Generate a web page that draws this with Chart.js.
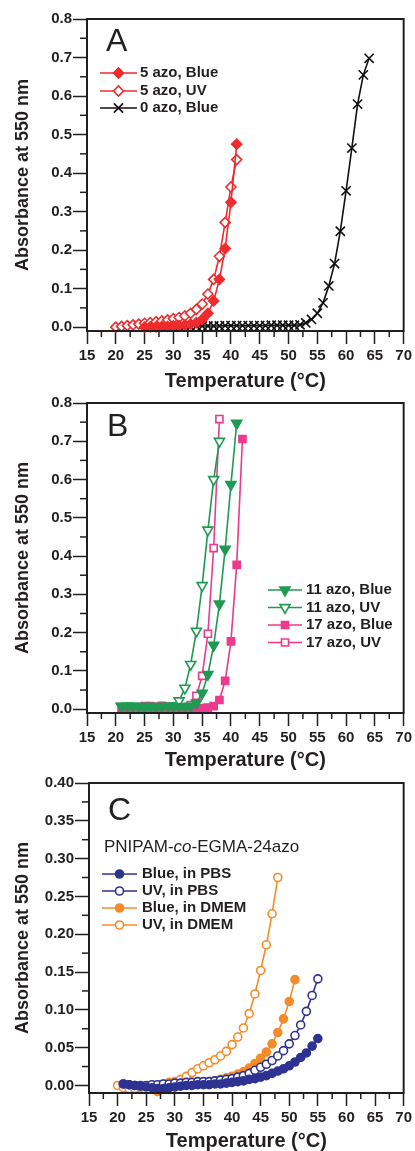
<!DOCTYPE html>
<html>
<head>
<meta charset="utf-8">
<script src="https://cdn.jsdelivr.net/npm/chart.js@4.4.1/dist/chart.umd.min.js"></script>
<style>
body { margin: 0; background: #fff; }
#wrap { position: relative; width: 415px; height: 1151px; overflow: hidden; background: #fff; }
canvas { position: absolute; left: 0; }
</style>
</head>
<body>
<div id="wrap">
<canvas id="chartA" width="415" height="392" style="top:0px"></canvas>
<canvas id="chartB" width="415" height="380" style="top:390px"></canvas>
<canvas id="chartC" width="415" height="383" style="top:768px"></canvas>
</div>
<script>
// shared axis ticks
var xTicks = [15, 20, 25, 30, 35, 40, 45, 50, 55, 60, 65, 70];
var xMinor = [17.5, 22.5, 27.5, 32.5, 37.5, 42.5, 47.5, 52.5, 57.5, 62.5, 67.5];
var abYTicks = [0, 0.1, 0.2, 0.3, 0.4, 0.5, 0.6, 0.7, 0.8];
var abYMinor = [0.05, 0.15, 0.25, 0.35, 0.45, 0.55, 0.65, 0.75];
var cYTicks = [0, 0.05, 0.10, 0.15, 0.20, 0.25, 0.30, 0.35, 0.40];
var cYMinor = [0.025, 0.075, 0.125, 0.175, 0.225, 0.275, 0.325, 0.375];

// panel A
var aBlue5T = [25, 26, 27, 28, 29, 30, 31, 32, 33, 34, 35, 36, 37, 38, 39, 40, 41];
var aBlue5 = [0.000, 0.001, 0.001, 0.002, 0.002, 0.003, 0.004, 0.006, 0.008, 0.012, 0.020, 0.036, 0.068, 0.124, 0.204, 0.324, 0.475];
var aUV5T = [20, 21, 22, 23, 24, 25, 26, 27, 28, 29, 30, 31, 32, 33, 34, 35, 36, 37, 38, 39, 40, 41];
var aUV5 = [0.000, 0.002, 0.004, 0.006, 0.008, 0.010, 0.012, 0.014, 0.016, 0.019, 0.022, 0.025, 0.029, 0.036, 0.046, 0.060, 0.086, 0.124, 0.184, 0.272, 0.364, 0.435];
var aBlue0T = [25, 26, 27, 28, 29, 30, 31, 32, 33, 34, 35, 36, 37, 38, 39, 40, 41, 42, 43, 44,
    45, 46, 47, 48, 49, 50, 51, 52, 53, 54, 55, 56, 57, 58, 59, 60, 61, 62, 63, 64];
var aBlue0 = [0.000, 0.000, 0.001, 0.001, 0.001, 0.002, 0.002, 0.002, 0.002, 0.003, 0.003, 0.003, 0.003, 0.003, 0.004, 0.004, 0.004, 0.004, 0.004, 0.004,
    0.004, 0.004, 0.005, 0.005, 0.005, 0.005, 0.005, 0.006, 0.011, 0.020, 0.036, 0.063, 0.107, 0.165, 0.249, 0.354, 0.465, 0.579, 0.655, 0.698];

// panel B
var b11BlueT = [21, 22, 23, 24, 25, 26, 27, 28, 29, 30, 31, 32, 33, 34, 35, 36, 37, 38, 39, 40, 41];
var b11Blue = [0.007, 0.007, 0.007, 0.006, 0.006, 0.006, 0.006, 0.006, 0.006, 0.006, 0.006, 0.007, 0.008, 0.016, 0.042, 0.091, 0.167, 0.275, 0.418, 0.587, 0.747];
var b11UVT = [21, 22, 23, 24, 25, 26, 27, 28, 29, 30, 31, 32, 33, 34, 35, 36, 37, 38];
var b11UV = [0.008, 0.008, 0.008, 0.007, 0.007, 0.007, 0.007, 0.007, 0.008, 0.009, 0.022, 0.055, 0.117, 0.204, 0.323, 0.468, 0.600, 0.700];
var b17BlueT = [21, 22, 23, 24, 25, 26, 27, 28, 29, 30, 31, 32, 33, 34, 35, 36, 37, 38, 39, 40, 41, 42];
var b17Blue = [0.000, 0.000, 0.000, 0.000, 0.000, 0.000, 0.000, 0.000, 0.000, 0.000, 0.001, 0.001, 0.001, 0.002, 0.003, 0.004, 0.008, 0.024, 0.074, 0.177, 0.377, 0.706];
var b17UVT = [25, 26, 27, 28, 29, 30, 31, 32, 33, 34, 35, 36, 37, 38];
var b17UV = [0.008, 0.008, 0.006, 0.009, 0.006, 0.005, 0.005, 0.005, 0.011, 0.035, 0.087, 0.197, 0.421, 0.758];

// panel C
var cPbsT = [21, 22, 23, 24, 25, 26, 27, 28, 29, 30, 31, 32, 33, 34, 35, 36, 37, 38,
    39, 40, 41, 42, 43, 44, 45, 46, 47, 48, 49, 50, 51, 52, 53, 54, 55];
var cBluePbs = [0.002, 0.001, 0.000, -0.001, -0.002, -0.003, -0.004, -0.004, -0.003, -0.002, -0.001, 0.000, 0.000, 0.001, 0.001, 0.001, 0.002, 0.002,
    0.003, 0.004, 0.005, 0.006, 0.008, 0.009, 0.011, 0.013, 0.016, 0.019, 0.022, 0.026, 0.031, 0.037, 0.043, 0.052, 0.062];
var cUVPbs = [0.002, 0.001, 0.000, 0.000, 0.000, 0.001, 0.001, 0.002, 0.002, 0.003, 0.003, 0.004, 0.004, 0.005, 0.005, 0.005, 0.006, 0.007,
    0.008, 0.009, 0.011, 0.013, 0.016, 0.020, 0.024, 0.028, 0.033, 0.039, 0.046, 0.055, 0.066, 0.080, 0.098, 0.119, 0.141];
var cBlueDmemT = [27, 28, 29, 30, 31, 32, 33, 34, 35, 36, 37, 38, 39, 40, 41, 42, 43, 44, 45, 46, 47, 48, 49, 50, 51];
var cBlueDmem = [-0.008, -0.005, -0.003, -0.002, 0.000, 0.001, 0.002, 0.003, 0.004, 0.005, 0.006, 0.008, 0.010, 0.012, 0.015, 0.018, 0.023, 0.029, 0.036, 0.044, 0.055, 0.070, 0.088, 0.111, 0.140];
var cUVDmemT = [20, 21, 22, 23, 24, 25, 26, 27, 28, 29, 30, 31, 32, 33, 34, 35, 36, 37, 38, 39, 40, 41, 42, 43, 44, 45, 46, 47, 48];
var cUVDmem = [0.000, -0.003, -0.004, -0.004, -0.003, -0.002, 0.000, 0.001, 0.002, 0.004, 0.005, 0.008, 0.012, 0.017, 0.022, 0.026, 0.030, 0.034, 0.039, 0.045, 0.054, 0.064, 0.076, 0.095, 0.121, 0.152, 0.186, 0.227, 0.275];

var FONT = "'Liberation Sans', Arial, Helvetica, sans-serif";
var INK = "#231f20";
var RED = "#ee2b2e";
var GREEN = "#1f9a52";
var PINK = "#ec3a8c";
var NAVY = "#2e3392";
var ORANGE = "#f68b2a";

function series(label, xs, ys, color, style, radius, filled, rotation) {
    return {
        label: label,
        data: xs.map(function (t, i) { return { x: t, y: ys[i] }; }),
        borderColor: color,
        borderWidth: 1.6,
        pointStyle: style,
        pointRadius: radius,
        pointHoverRadius: radius,
        pointRotation: rotation || 0,
        pointBorderColor: color,
        pointBackgroundColor: filled ? color : "#fff",
        pointBorderWidth: 1.6,
        tension: 0,
        clip: false
    };
}

// frame, minor ticks, panel letter, legend, subtitle
var panelPlugin = {
    id: "panel",
    afterDraw: function (chart, args, o) {
        var ctx = chart.ctx;
        var area = chart.chartArea;
        var xs = chart.scales.x;
        var ys = chart.scales.y;
        ctx.save();
        ctx.strokeStyle = INK;
        ctx.lineWidth = 2;
        ctx.strokeRect(area.left, area.top, area.right - area.left, area.bottom - area.top);

        ctx.lineWidth = 1.5;
        o.minorX.forEach(function (v) {
            var px = xs.getPixelForValue(v);
            ctx.beginPath();
            ctx.moveTo(px, area.bottom);
            ctx.lineTo(px, area.bottom + 6);
            ctx.stroke();
        });
        o.minorY.forEach(function (v) {
            var py = ys.getPixelForValue(v);
            ctx.beginPath();
            ctx.moveTo(area.left - 7, py);
            ctx.lineTo(area.left, py);
            ctx.stroke();
        });

        ctx.fillStyle = INK;
        ctx.font = "32px " + FONT;
        ctx.textAlign = "left";
        ctx.textBaseline = "alphabetic";
        ctx.fillText(o.letter, o.letterX, o.letterY);

        if (o.subtitle) {
            var x = o.subX;
            o.subtitle.forEach(function (part) {
                ctx.font = (part.italic ? "italic " : "") + "17px " + FONT;
                ctx.fillText(part.text, x, o.subY);
                x += ctx.measureText(part.text).width;
            });
        }

        chart.data.datasets.forEach(function (ds, i) {
            var y = o.rows[i];
            ctx.strokeStyle = ds.borderColor;
            ctx.lineWidth = 1.6;
            ctx.beginPath();
            ctx.moveTo(o.lineX0, y);
            ctx.lineTo(o.lineX1, y);
            ctx.stroke();
            ctx.fillStyle = ds.pointBackgroundColor;
            ctx.strokeStyle = ds.pointBorderColor;
            ctx.lineWidth = ds.pointBorderWidth;
            Chart.helpers.drawPoint(ctx, {
                pointStyle: ds.pointStyle,
                radius: ds.pointRadius,
                rotation: ds.pointRotation,
                borderWidth: ds.pointBorderWidth
            }, (o.lineX0 + o.lineX1) / 2, y);
            ctx.fillStyle = INK;
            ctx.font = "bold 15px " + FONT;
            ctx.textBaseline = "middle";
            ctx.fillText(ds.label, o.textX, y);
            ctx.textBaseline = "alphabetic";
        });
        ctx.restore();
    }
};

function makePanel(id, datasets, p) {
    return new Chart(id, {
        type: "line",
        data: { datasets: datasets },
        plugins: [panelPlugin],
        options: {
            responsive: false,
            animation: false,
            events: [],
            layout: { padding: { top: p.top, right: p.right, left: 0, bottom: 0 } },
            plugins: {
                legend: { display: false },
                tooltip: { enabled: false },
                panel: p.panel
            },
            scales: {
                x: {
                    type: "linear",
                    min: 15,
                    max: 70,
                    afterBuildTicks: function (s) { s.ticks = xTicks.map(function (v) { return { value: v }; }); },
                    afterFit: function (s) { s.height = p.xH; },
                    grid: { drawOnChartArea: false, tickLength: 13, tickColor: INK, tickWidth: 1.5 },
                    border: { color: INK, width: 2 },
                    ticks: {
                        font: { family: FONT, size: 15, weight: "bold" },
                        color: INK,
                        padding: 3,
                        maxRotation: 0,
                        autoSkip: false
                    },
                    title: {
                        display: true,
                        text: "Temperature (°C)",
                        color: INK,
                        font: { family: FONT, size: 20, weight: "bold", lineHeight: 1 },
                        padding: { top: 0, bottom: p.xTitlePad }
                    }
                },
                y: {
                    type: "linear",
                    min: p.yMin,
                    max: p.yMax,
                    afterBuildTicks: function (s) { s.ticks = p.yTicks.map(function (v) { return { value: v }; }); },
                    afterFit: function (s) { s.width = p.left; },
                    grid: { drawOnChartArea: false, tickLength: 14, tickColor: INK, tickWidth: 1.5 },
                    border: { color: INK, width: 2 },
                    ticks: {
                        font: { family: FONT, size: 15, weight: "bold" },
                        color: INK,
                        padding: 1,
                        callback: function (v) { return v.toFixed(p.decimals); }
                    },
                    title: {
                        display: true,
                        text: "Absorbance at 550 nm",
                        color: INK,
                        font: { family: FONT, size: 18, weight: "bold", lineHeight: 1 },
                        padding: { top: 14, bottom: 0 }
                    }
                }
            }
        }
    });
}

makePanel("chartA", [
    series("5 azo, Blue", aBlue5T, aBlue5, RED, "rectRot", 5, true),
    series("5 azo, UV", aUV5T, aUV5, RED, "rectRot", 5, false),
    series("0 azo, Blue", aBlue0T, aBlue0, "#111111", "crossRot", 6.5, false)
], {
    top: 19, right: 11, left: 87, xH: 61, xTitlePad: 1,
    yMin: -0.01, yMax: 0.8, yTicks: abYTicks, decimals: 1,
    panel: {
        letter: "A", letterX: 106, letterY: 51,
        minorX: xMinor, minorY: abYMinor,
        rows: [73, 91, 108], lineX0: 100, lineX1: 137, textX: 140
    }
});

makePanel("chartB", [
    series("11 azo, Blue", b11BlueT, b11Blue, GREEN, "triangle", 5.8, true, 180),
    series("11 azo, UV", b11UVT, b11UV, GREEN, "triangle", 5.8, false, 180),
    series("17 azo, Blue", b17BlueT, b17Blue, PINK, "rect", 5, true),
    series("17 azo, UV", b17UVT, b17UV, PINK, "rect", 5, false)
], {
    top: 13, right: 9, left: 87, xH: 57, xTitlePad: 0,
    yMin: -0.01, yMax: 0.8, yTicks: abYTicks, decimals: 1,
    panel: {
        letter: "B", letterX: 107, letterY: 46,
        minorX: xMinor, minorY: abYMinor,
        rows: [200, 217.5, 235, 252.5], lineX0: 268, lineX1: 302, textX: 306
    }
});

makePanel("chartC", [
    series("Blue, in PBS", cPbsT, cBluePbs, NAVY, "circle", 4, true),
    series("UV, in PBS", cPbsT, cUVPbs, NAVY, "circle", 4, false),
    series("Blue, in DMEM", cBlueDmemT, cBlueDmem, ORANGE, "circle", 4, true),
    series("UV, in DMEM", cUVDmemT, cUVDmem, ORANGE, "circle", 4, false)
], {
    top: 15, right: 8, left: 89, xH: 58, xTitlePad: 0,
    yMin: -0.01, yMax: 0.4, yTicks: cYTicks, decimals: 2,
    panel: {
        letter: "C", letterX: 108, letterY: 52,
        minorX: xMinor, minorY: cYMinor,
        subtitle: [{ text: "PNIPAM-" }, { text: "co", italic: true }, { text: "-EGMA-24azo" }],
        subX: 104, subY: 84,
        rows: [106, 123, 140, 157], lineX0: 102, lineX1: 137, textX: 142
    }
});
</script>
</body>
</html>
